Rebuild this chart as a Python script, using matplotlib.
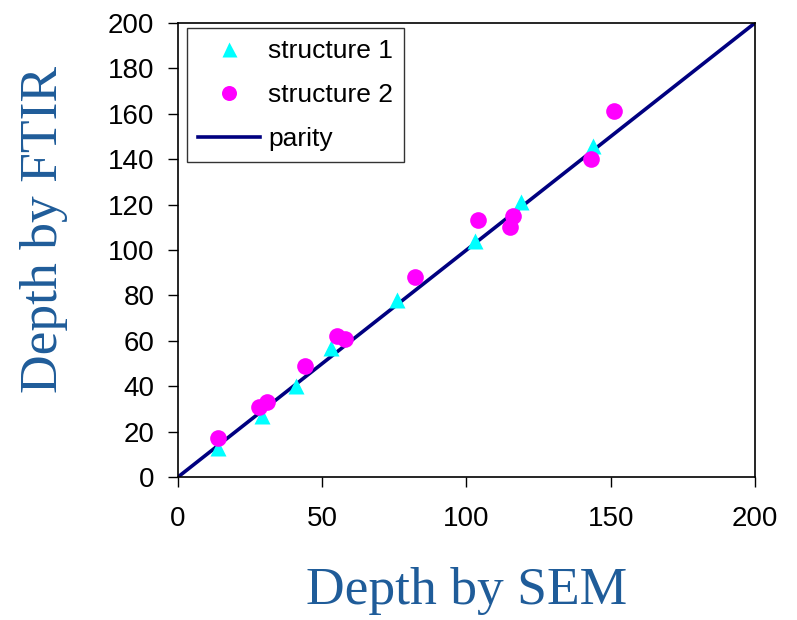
import matplotlib.pyplot as plt

# structure 1 (triangles)
s1_sem = [14, 29, 41, 53, 76, 103, 119, 144]
s1_ftir = [13, 27, 40, 57, 78, 104, 121, 146]

# structure 2 (circles)
s2_sem = [14, 28, 31, 44, 55, 58, 82, 104, 116, 115, 143, 151]
s2_ftir = [17, 31, 33, 49, 62, 61, 88, 113, 115, 110, 140, 161]

parity = [0, 200]

fig = plt.figure(figsize=(7.97, 6.2), dpi=100)
ax = fig.add_axes([0.2233, 0.2306, 0.724, 0.7324])

ax.plot(parity, parity, color='#000080', lw=2.6, label='parity', zorder=2)
ax.plot(s1_sem, s1_ftir, '^', color='#00FFFF', ms=12, mec='none', label='structure 1', zorder=3)
ax.plot(s2_sem, s2_ftir, 'o', color='#FF00FF', ms=12, mec='none', label='structure 2', zorder=4)

ax.set_xlim(0, 200)
ax.set_ylim(0, 200)
ax.set_xticks([0, 50, 100, 150, 200])
ax.set_yticks(range(0, 201, 20))
ax.tick_params(direction='out', length=7, width=1, labelsize=20, pad=10)
ax.tick_params(axis='x', pad=14)
for lab in ax.get_xticklabels() + ax.get_yticklabels():
    lab.set_family('Liberation Sans')
for sp in ax.spines.values():
    sp.set_linewidth(1.2)

ax.set_xlabel('Depth by SEM', family='Liberation Serif', fontsize=38.5, color='#1F5C99', labelpad=25)
ax.set_ylabel('Depth by FTIR', family='Liberation Serif', fontsize=38.5, color='#1F5C99')
ax.yaxis.set_label_coords(-0.19, 0.545)

h, l = ax.get_legend_handles_labels()
order = [1, 2, 0]
leg = ax.legend([h[i] for i in order], [l[i] for i in order], loc='upper left',
                bbox_to_anchor=(0.0156, 0.989), borderaxespad=0,
                prop={'family': 'Liberation Sans', 'size': 19},
                frameon=True, fancybox=False, shadow=False, edgecolor='black',
                handlelength=2.35, handletextpad=0.3, borderpad=0.42, labelspacing=0.76,
                markerscale=0.9)
leg.get_frame().set_linewidth(1.0)

fig.savefig('out.png', dpi=100)
